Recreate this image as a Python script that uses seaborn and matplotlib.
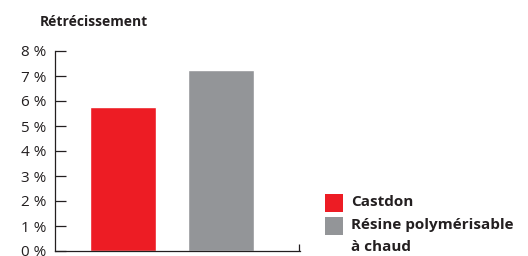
import matplotlib
matplotlib.use('Agg')
import matplotlib.pyplot as plt
import seaborn as sns
import pandas as pd
from matplotlib.patches import Rectangle

# data
materials = ['Castdon', 'Résine polymérisable\nà chaud']
shrinkage = [5.75, 7.25]
colors = ['#ED1C24', '#939598']
yticks = [0, 1, 2, 3, 4, 5, 6, 7, 8]
ylabels = [f'{v} %' for v in yticks]

sns.set_style('white')
plt.rcParams['font.family'] = ['Open Sans', 'DejaVu Sans']
text_col = '#231F20'

df = pd.DataFrame({'Matériau': materials, 'Retrait': shrinkage})

fig = plt.figure(figsize=(5.28, 2.56), dpi=100)
ax = fig.add_axes([55 / 528, 5 / 256, 245 / 528, 200 / 256])

sns.barplot(data=df, x='Matériau', y='Retrait', hue='Matériau',
            palette=colors, width=0.67, saturation=1, legend=False, ax=ax)

ax.set_ylim(0, 8)
ax.set_xlim(-0.694, 1.806)
ax.set_yticks(yticks)
ax.set_yticklabels(ylabels, fontsize=11, color=text_col)
ax.set_xticks([1.80])
ax.set_xticklabels([''])
ax.set_xlabel('')
ax.set_ylabel('')
ax.tick_params(axis='y', left=True, direction='in', length=8, width=0.9, color=text_col, pad=6)
ax.tick_params(axis='x', bottom=True, direction='in', length=5, width=0.9, color=text_col)
for side in ['top', 'right']:
    ax.spines[side].set_visible(False)
for side in ['left', 'bottom']:
    ax.spines[side].set_color(text_col)
    ax.spines[side].set_linewidth(0.9)

fig.text(40 / 528, 1 - 22 / 256, 'Rétrécissement', fontsize=10, fontweight='bold',
         color=text_col, va='center', ha='left')

# legend drawn by hand so the square sits on the first text line
for i, (lab, col) in enumerate(zip(materials, colors)):
    y_top = 194 + i * 23
    fig.patches.append(Rectangle((325 / 528, 1 - (y_top + 18) / 256), 18 / 528, 18 / 256,
                                 transform=fig.transFigure, facecolor=col, edgecolor='none'))
    fig.text(351 / 528, 1 - (y_top + 1) / 256, lab, fontsize=11, fontweight='bold',
             color=text_col, va='top', ha='left', linespacing=1.75)

fig.savefig('out.png', dpi=100)
